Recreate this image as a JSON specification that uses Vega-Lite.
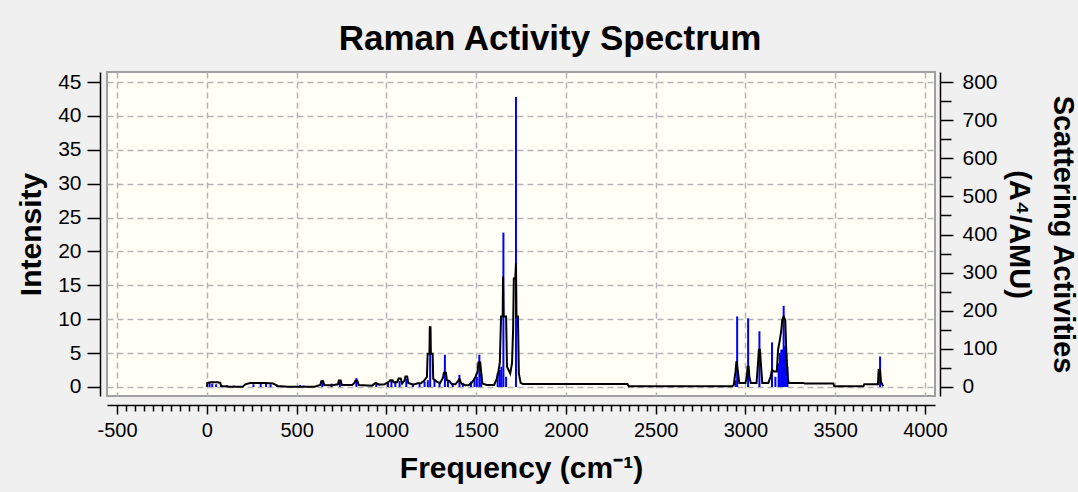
{
  "$schema": "https://vega.github.io/schema/vega-lite/v6.json",
  "width": 828,
  "height": 324,
  "autosize": {"type": "none"},
  "padding": {"left": 107, "top": 72, "right": 143, "bottom": 96},
  "background": "#f0f0f0",
  "config": {
    "view": {"fill": "#fffff7", "stroke": "#a0a0a0", "strokeWidth": 2},
    "font": "Liberation Sans"
  },
  "title": {
    "text": "Raman Activity Spectrum",
    "font": "Liberation Sans",
    "fontSize": 35,
    "fontWeight": "bold",
    "color": "#000000",
    "anchor": "middle",
    "frame": "group",
    "dx": 29,
    "dy": 34,
    "baseline": "alphabetic",
    "offset": 20
  },
  "datasets": {
    "sticks": [
      {"freq": 15, "activity": 10.7}, {"freq": 30, "activity": 8.9}, {"freq": 52, "activity": 7.1}, {"freq": 80, "activity": 5.3},
      {"freq": 112, "activity": 4.4}, {"freq": 150, "activity": 3.6}, {"freq": 260, "activity": 7.1}, {"freq": 300, "activity": 8.9},
      {"freq": 330, "activity": 10.7}, {"freq": 355, "activity": 7.1}, {"freq": 390, "activity": 5.3}, {"freq": 520, "activity": 5.3},
      {"freq": 540, "activity": 3.6}, {"freq": 643, "activity": 17.8}, {"freq": 695, "activity": 8.9}, {"freq": 741, "activity": 14.2},
      {"freq": 833, "activity": 23.1}, {"freq": 944, "activity": 10.7}, {"freq": 1009, "activity": 10.7}, {"freq": 1028, "activity": 16.0},
      {"freq": 1050, "activity": 14.2}, {"freq": 1074, "activity": 16.0}, {"freq": 1111, "activity": 21.3}, {"freq": 1148, "activity": 8.9},
      {"freq": 1185, "activity": 8.9}, {"freq": 1213, "activity": 14.2}, {"freq": 1231, "activity": 17.8}, {"freq": 1244, "activity": 87.1},
      {"freq": 1268, "activity": 17.8}, {"freq": 1296, "activity": 10.7}, {"freq": 1326, "activity": 84.5}, {"freq": 1343, "activity": 17.8},
      {"freq": 1370, "activity": 10.7}, {"freq": 1407, "activity": 32.0}, {"freq": 1426, "activity": 10.7}, {"freq": 1472, "activity": 14.2},
      {"freq": 1491, "activity": 21.3}, {"freq": 1504, "activity": 26.7}, {"freq": 1518, "activity": 84.5}, {"freq": 1528, "activity": 35.6},
      {"freq": 1620, "activity": 35.6}, {"freq": 1632, "activity": 44.5}, {"freq": 1641, "activity": 53.3}, {"freq": 1652, "activity": 405},
      {"freq": 1667, "activity": 26.7}, {"freq": 1722, "activity": 761}, {"freq": 2945, "activity": 17.8}, {"freq": 2954, "activity": 185},
      {"freq": 3015, "activity": 180}, {"freq": 3078, "activity": 146}, {"freq": 3148, "activity": 117}, {"freq": 3167, "activity": 26.7},
      {"freq": 3185, "activity": 62}, {"freq": 3192, "activity": 89}, {"freq": 3200, "activity": 98}, {"freq": 3207, "activity": 98},
      {"freq": 3213, "activity": 213}, {"freq": 3220, "activity": 107}, {"freq": 3228, "activity": 89}, {"freq": 3234, "activity": 53},
      {"freq": 3750, "activity": 80}
    ],
    "curve": [
      {"freq": 0, "intensity": 0}, {"freq": 3, "intensity": 0.6}, {"freq": 20, "intensity": 0.7}, {"freq": 60, "intensity": 0.7},
      {"freq": 75, "intensity": 0.6}, {"freq": 80, "intensity": 0.15}, {"freq": 130, "intensity": 0.05}, {"freq": 200, "intensity": 0.05},
      {"freq": 215, "intensity": 0.4}, {"freq": 240, "intensity": 0.6}, {"freq": 330, "intensity": 0.6}, {"freq": 370, "intensity": 0.5},
      {"freq": 395, "intensity": 0.15}, {"freq": 450, "intensity": 0.05}, {"freq": 600, "intensity": 0.05}, {"freq": 632, "intensity": 0.3},
      {"freq": 638, "intensity": 0.85}, {"freq": 648, "intensity": 0.85}, {"freq": 654, "intensity": 0.3}, {"freq": 700, "intensity": 0.25}, {"freq": 730, "intensity": 0.4},
      {"freq": 736, "intensity": 0.95}, {"freq": 746, "intensity": 0.95}, {"freq": 752, "intensity": 0.3}, {"freq": 810, "intensity": 0.3}, {"freq": 822, "intensity": 0.6},
      {"freq": 828, "intensity": 0.95}, {"freq": 838, "intensity": 0.95}, {"freq": 846, "intensity": 0.3}, {"freq": 920, "intensity": 0.2}, {"freq": 940, "intensity": 0.6},
      {"freq": 960, "intensity": 0.35}, {"freq": 990, "intensity": 0.4}, {"freq": 1015, "intensity": 0.8}, {"freq": 1022, "intensity": 1.0}, {"freq": 1034, "intensity": 1.0},
      {"freq": 1040, "intensity": 0.7}, {"freq": 1060, "intensity": 0.7}, {"freq": 1068, "intensity": 1.25}, {"freq": 1080, "intensity": 1.25}, {"freq": 1088, "intensity": 0.5},
      {"freq": 1100, "intensity": 0.9}, {"freq": 1106, "intensity": 1.55}, {"freq": 1116, "intensity": 1.55}, {"freq": 1122, "intensity": 0.6}, {"freq": 1150, "intensity": 0.35},
      {"freq": 1175, "intensity": 0.55}, {"freq": 1195, "intensity": 0.6}, {"freq": 1210, "intensity": 0.9}, {"freq": 1226, "intensity": 1.5},
      {"freq": 1230, "intensity": 4.9}, {"freq": 1240, "intensity": 4.9}, {"freq": 1242, "intensity": 8.8}, {"freq": 1246, "intensity": 8.8}, {"freq": 1248, "intensity": 4.9}, {"freq": 1258, "intensity": 4.9},
      {"freq": 1261, "intensity": 1.2}, {"freq": 1280, "intensity": 0.8}, {"freq": 1300, "intensity": 0.6}, {"freq": 1316, "intensity": 1.4},
      {"freq": 1320, "intensity": 2.1}, {"freq": 1332, "intensity": 2.1}, {"freq": 1337, "intensity": 1.0}, {"freq": 1350, "intensity": 0.9}, {"freq": 1365, "intensity": 0.4},
      {"freq": 1385, "intensity": 0.4}, {"freq": 1400, "intensity": 0.9}, {"freq": 1407, "intensity": 1.2}, {"freq": 1418, "intensity": 0.5},
      {"freq": 1440, "intensity": 0.25}, {"freq": 1460, "intensity": 0.3}, {"freq": 1478, "intensity": 0.7}, {"freq": 1495, "intensity": 1.4},
      {"freq": 1508, "intensity": 2.3}, {"freq": 1513, "intensity": 3.6}, {"freq": 1523, "intensity": 3.6}, {"freq": 1528, "intensity": 2.2}, {"freq": 1535, "intensity": 0.5},
      {"freq": 1560, "intensity": 0.3}, {"freq": 1600, "intensity": 0.3}, {"freq": 1615, "intensity": 1.2}, {"freq": 1625, "intensity": 2.4},
      {"freq": 1632, "intensity": 3.6}, {"freq": 1639, "intensity": 10.4}, {"freq": 1648, "intensity": 10.4}, {"freq": 1650, "intensity": 16.3}, {"freq": 1653, "intensity": 10.4},
      {"freq": 1667, "intensity": 10.4}, {"freq": 1672, "intensity": 3.0}, {"freq": 1690, "intensity": 2.0}, {"freq": 1700, "intensity": 3.5},
      {"freq": 1706, "intensity": 8.4}, {"freq": 1710, "intensity": 16.0}, {"freq": 1718, "intensity": 16.0}, {"freq": 1722, "intensity": 18.2}, {"freq": 1725, "intensity": 10.4},
      {"freq": 1733, "intensity": 10.4}, {"freq": 1738, "intensity": 2.0}, {"freq": 1748, "intensity": 0.6}, {"freq": 1760, "intensity": 0.45},
      {"freq": 2343, "intensity": 0.45}, {"freq": 2350, "intensity": 0.1}, {"freq": 2926, "intensity": 0.1}, {"freq": 2935, "intensity": 0.3},
      {"freq": 2945, "intensity": 2.3}, {"freq": 2950, "intensity": 3.8}, {"freq": 2958, "intensity": 2.3}, {"freq": 2966, "intensity": 0.6},
      {"freq": 3000, "intensity": 0.6}, {"freq": 3008, "intensity": 1.5}, {"freq": 3012, "intensity": 3.0}, {"freq": 3018, "intensity": 3.0}, {"freq": 3022, "intensity": 1.5},
      {"freq": 3030, "intensity": 0.6}, {"freq": 3062, "intensity": 0.6}, {"freq": 3070, "intensity": 3.5}, {"freq": 3075, "intensity": 5.5}, {"freq": 3081, "intensity": 5.5},
      {"freq": 3086, "intensity": 3.5}, {"freq": 3094, "intensity": 0.6}, {"freq": 3128, "intensity": 0.6}, {"freq": 3140, "intensity": 1.5},
      {"freq": 3148, "intensity": 2.5}, {"freq": 3158, "intensity": 2.3}, {"freq": 3175, "intensity": 2.3}, {"freq": 3182, "intensity": 5.5},
      {"freq": 3192, "intensity": 7.0}, {"freq": 3200, "intensity": 8.4}, {"freq": 3205, "intensity": 9.9}, {"freq": 3213, "intensity": 10.4},
      {"freq": 3222, "intensity": 9.9}, {"freq": 3228, "intensity": 5.0}, {"freq": 3234, "intensity": 2.0}, {"freq": 3240, "intensity": 0.6},
      {"freq": 3324, "intensity": 0.6}, {"freq": 3330, "intensity": 0.5}, {"freq": 3490, "intensity": 0.5}, {"freq": 3495, "intensity": 0.1},
      {"freq": 3657, "intensity": 0.1}, {"freq": 3662, "intensity": 0.4}, {"freq": 3738, "intensity": 0.4}, {"freq": 3742, "intensity": 2.5}, {"freq": 3750, "intensity": 2.5},
      {"freq": 3755, "intensity": 0.8}, {"freq": 3767, "intensity": 0.1}
    ]
  },
  "encoding": {
    "x": {
      "field": "freq",
      "type": "quantitative",
      "scale": {"domain": [-556, 4056], "nice": false, "zero": false},
      "axis": {
        "title": "Frequency (cm⁻¹)",
        "values": [-500,-450,-400,-350,-300,-250,-200,-150,-100,-50,0,50,100,150,200,250,300,350,400,450,500,550,600,650,700,750,800,850,900,950,1000,1050,1100,1150,1200,1250,1300,1350,1400,1450,1500,1550,1600,1650,1700,1750,1800,1850,1900,1950,2000,2050,2100,2150,2200,2250,2300,2350,2400,2450,2500,2550,2600,2650,2700,2750,2800,2850,2900,2950,3000,3050,3100,3150,3200,3250,3300,3350,3400,3450,3500,3550,3600,3650,3700,3750,3800,3850,3900,3950,4000],
        "labelExpr": "datum.value % 500 === 0 ? '' + datum.value : ''",
        "labelOverlap": false,
        "labelFlush": false,
        "labelFont": "Liberation Sans Narrow, Liberation Sans",
        "labelFontSize": 20,
        "labelColor": "#000000",
        "labelPadding": 6,
        "tickSize": {"condition": {"test": "datum.value % 500 === 0", "value": 9}, "value": 6},
        "tickColor": "#000000",
        "tickWidth": 1.5,
        "domainColor": "#000000",
        "domainWidth": 1.5,
        "offset": 9,
        "grid": true,
        "gridOpacity": {"condition": {"test": "datum.value % 500 === 0", "value": 1}, "value": 0},
        "gridDash": [6, 4],
        "gridColor": "#b4b4b4",
        "gridWidth": 1.5,
        "titleFont": "Liberation Sans",
        "titleFontSize": 30,
        "titleFontWeight": "bold",
        "titleColor": "#000000",
        "titlePadding": 13
      }
    }
  },
  "layer": [
    {
      "data": {"name": "sticks"},
      "mark": {"type": "rule", "color": "#0000ff", "strokeWidth": 2},
      "encoding": {
        "y": {
          "field": "activity",
          "type": "quantitative",
          "scale": {"domain": [-23.64, 826.3], "nice": false, "zero": false},
          "axis": {
            "orient": "right",
            "title": ["Scattering Activities", "(A⁴/AMU)"],
            "values": [0,50,100,150,200,250,300,350,400,450,500,550,600,650,700,750,800],
            "labelExpr": "datum.value % 100 === 0 ? datum.label : ''",
            "labelFontSize": 21,
            "labelColor": "#000000",
            "labelPadding": 9,
            "tickSize": {"condition": {"test": "datum.value % 100 === 0", "value": 13}, "value": 11},
            "tickColor": "#000000",
            "tickWidth": 1.5,
            "domainColor": "#000000",
            "domainWidth": 1.5,
            "offset": 5,
            "grid": false,
            "titleFontSize": 29,
            "titleFontWeight": "bold",
            "titleColor": "#000000",
            "titleLineHeight": 44,
            "titlePadding": 6
          }
        },
        "y2": {"datum": 0}
      }
    },
    {
      "data": {"name": "curve"},
      "mark": {"type": "line", "color": "#000000", "strokeWidth": 2},
      "encoding": {
        "y": {
          "field": "intensity",
          "type": "quantitative",
          "scale": {"domain": [-1.33, 46.48], "nice": false, "zero": false},
          "axis": {
            "orient": "left",
            "title": "Intensity",
            "values": [0,5,10,15,20,25,30,35,40,45],
            "labelFontSize": 21,
            "labelColor": "#000000",
            "labelPadding": 6,
            "tickSize": 13,
            "tickColor": "#000000",
            "tickWidth": 1.5,
            "domainColor": "#000000",
            "domainWidth": 1.5,
            "offset": 7,
            "grid": true,
            "gridDash": [6, 4],
            "gridColor": "#b4b4b4",
            "gridWidth": 1.5,
            "titleFontSize": 30,
            "titleFontWeight": "bold",
            "titleColor": "#000000",
            "titlePadding": 11
          }
        }
      }
    }
  ],
  "resolve": {"scale": {"y": "independent"}}
}
